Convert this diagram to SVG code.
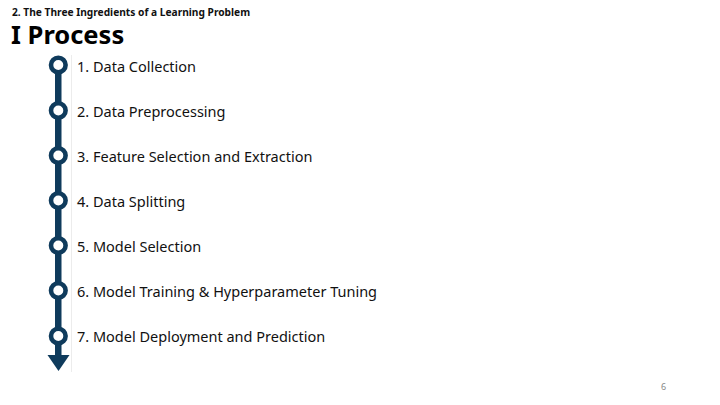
<svg xmlns="http://www.w3.org/2000/svg" width="720" height="405" viewBox="0 0 720 405">
<style>
.step{font-family:"Noto Sans","Open Sans",sans-serif;font-size:14.5px;fill:#111}
.node{fill:#fff;stroke:#0f3b5c;stroke-width:4.6}
</style>
<rect width="720" height="405" fill="#fff"/>
<text x="12" y="16" font-family="'Noto Sans','Open Sans',sans-serif" font-size="10.2" font-weight="bold" fill="#111">2. The Three Ingredients of a Learning Problem</text>
<text x="11" y="44" font-family="'Noto Sans','Open Sans',sans-serif" font-size="25.5" font-weight="bold" fill="#000">I Process</text>
<line x1="71.5" y1="55" x2="71.5" y2="372" stroke="#ececec" stroke-width="1"/>
<g id="connectors">
<rect x="55" y="62" width="6.5" height="294" fill="#0f3b5c"/>
<polygon points="47.5,355 69.5,355 58.5,371" fill="#0f3b5c"/>
</g>
<g id="n1"><circle class="node" cx="58.3" cy="65" r="7.3"/><text class="step" x="77" y="72">1. Data Collection</text></g>
<g id="n2"><circle class="node" cx="58.3" cy="110.5" r="7.3"/><text class="step" x="77" y="117">2. Data Preprocessing</text></g>
<g id="n3"><circle class="node" cx="58.3" cy="155.5" r="7.3"/><text class="step" x="77" y="162">3. Feature Selection and Extraction</text></g>
<g id="n4"><circle class="node" cx="58.3" cy="200.5" r="7.3"/><text class="step" x="77" y="207">4. Data Splitting</text></g>
<g id="n5"><circle class="node" cx="58.3" cy="245.5" r="7.3"/><text class="step" x="77" y="252">5. Model Selection</text></g>
<g id="n6"><circle class="node" cx="58.3" cy="290.5" r="7.3"/><text class="step" x="77" y="297">6. Model Training &amp; Hyperparameter Tuning</text></g>
<g id="n7"><circle class="node" cx="58.3" cy="336" r="7.3"/><text class="step" x="77" y="342">7. Model Deployment and Prediction</text></g>
<text x="661" y="390" font-family="'Noto Sans',sans-serif" font-size="9" fill="#888">6</text>
</svg>
